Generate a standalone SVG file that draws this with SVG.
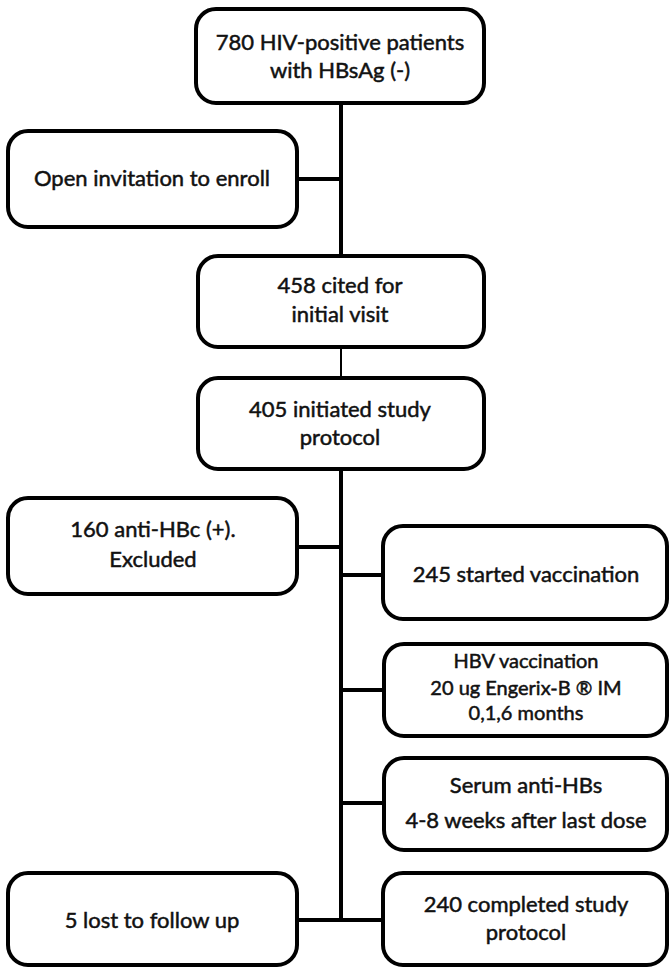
<svg xmlns="http://www.w3.org/2000/svg" width="670" height="969" viewBox="0 0 670 969">
<style>
.box{fill:#fff;stroke:#000;stroke-width:4}
.t{font-family:Lato,"Noto Sans","Liberation Sans",sans-serif;font-size:22px;fill:#111;text-anchor:middle;stroke:#111;stroke-width:0.5}
.s{font-size:20px}
.ln{stroke:#000;stroke-width:4;fill:none}
.thin{stroke:#000;stroke-width:2;fill:none}
</style>
<rect width="670" height="969" fill="#fff"/>
<g id="connectors">
<line class="ln" x1="341" y1="102" x2="341" y2="255"/>
<line class="ln" x1="298" y1="179" x2="341" y2="179"/>
<line class="thin" x1="341" y1="348" x2="341" y2="377"/>
<line class="ln" x1="341" y1="470" x2="341" y2="921"/>
<line class="ln" x1="298" y1="547" x2="341" y2="547"/>
<line class="ln" x1="341" y1="575" x2="382" y2="575"/>
<line class="ln" x1="341" y1="690" x2="383" y2="690"/>
<line class="ln" x1="341" y1="803" x2="383" y2="803"/>
<line class="ln" x1="298" y1="920" x2="382" y2="920"/>
</g>
<g id="n1"><rect class="box" x="196" y="9" width="288" height="94" rx="20"/>
<text class="t" x="340" y="50">780 HIV-positive patients</text><text class="t" x="340" y="78">with HBsAg (-)</text></g>
<g id="n2"><rect class="box" x="8" y="131" width="289" height="96" rx="20"/>
<text class="t" x="152" y="186">Open invitation to enroll</text></g>
<g id="n3"><rect class="box" x="198" y="256" width="286" height="91" rx="20"/>
<text class="t" x="340" y="293">458 cited for</text><text class="t" x="340" y="322">initial visit</text></g>
<g id="n4"><rect class="box" x="198" y="378" width="286" height="91" rx="20"/>
<text class="t" x="340" y="417">405 initiated study</text><text class="t" x="340" y="445">protocol</text></g>
<g id="n5"><rect class="box" x="8" y="498" width="289" height="96" rx="20"/>
<text class="t" x="153" y="537">160 anti-HBc (+).</text><text class="t" x="153" y="567">Excluded</text></g>
<g id="n6"><rect class="box" x="383" y="526" width="284" height="93" rx="20"/>
<text class="t" x="526" y="582">245 started vaccination</text></g>
<g id="n7"><rect class="box" x="384" y="644" width="283" height="92" rx="20"/>
<text class="t s" x="526" y="668">HBV vaccination</text><text class="t s" x="526" y="695">20 ug Engerix-B ® IM</text><text class="t s" x="526" y="720">0,1,6 months</text></g>
<g id="n8"><rect class="box" x="384" y="758" width="283" height="92" rx="20"/>
<text class="t" x="526" y="793">Serum anti-HBs</text><text class="t" x="526" y="828">4-8 weeks after last dose</text></g>
<g id="n9"><rect class="box" x="8" y="873" width="289" height="92" rx="20"/>
<text class="t" x="152" y="928">5 lost to follow up</text></g>
<g id="n10"><rect class="box" x="383" y="873" width="284" height="92" rx="20"/>
<text class="t" x="526" y="912">240 completed study</text><text class="t" x="526" y="940">protocol</text></g>
</svg>
